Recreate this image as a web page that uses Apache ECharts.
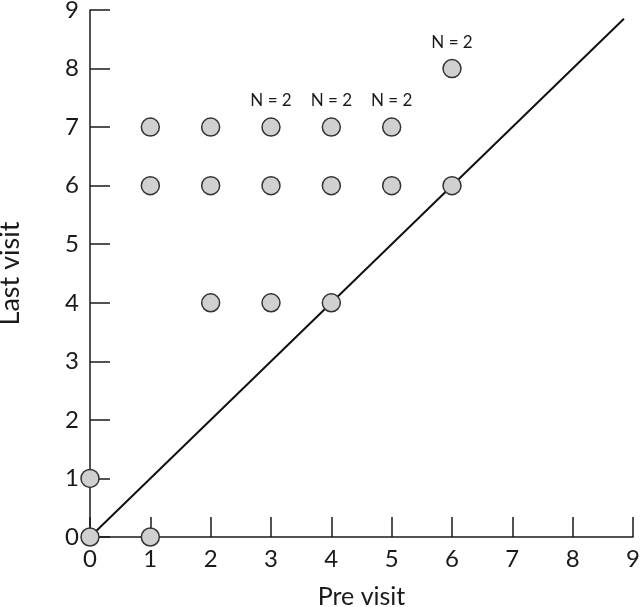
<!DOCTYPE html>
<html>
<head>
<meta charset="utf-8">
<script src="https://cdn.jsdelivr.net/npm/echarts@6/dist/echarts.min.js"></script>
<style>html,body{margin:0;padding:0;background:#fff}#c{width:640px;height:607px}</style>
</head>
<body>
<div id="c"></div>
<script>
const preVisit  = [0, 0, 1, 1, 1, 2, 2, 2, 3, 3, 3, 4, 4, 4, 5, 5, 6, 6];
const lastVisit = [0, 1, 0, 6, 7, 4, 6, 7, 4, 6, 7, 4, 6, 7, 6, 7, 6, 8];
const counts    = [1, 1, 1, 1, 1, 1, 1, 1, 1, 1, 2, 1, 1, 2, 1, 2, 1, 2];
const lineX = [0, 8.85];
const lineY = [0, 8.85];
const ticks = [0, 1, 2, 3, 4, 5, 6, 7, 8, 9];

const FONT = 'Lato';
const pts = preVisit.map((x, i) => ({
  value: [x, lastVisit[i]],
  label: { show: counts[i] > 1, formatter: 'N = ' + counts[i] }
}));

const chart = echarts.init(document.getElementById('c'));
const axisCommon = {
  type: 'value', min: ticks[0], max: ticks[ticks.length - 1], interval: 1,
  axisLine: { show: true, lineStyle: { color: '#1a1a1a', width: 1.5 } },
  axisTick: { show: true, inside: true, length: 20, lineStyle: { color: '#1a1a1a', width: 1.5 } },
  splitLine: { show: false },
  nameLocation: 'middle'
};
chart.setOption({
  animation: false,
  grid: { left: 90, right: 7, top: 10, bottom: 70, containLabel: false, outerBoundsMode: 'none' },
  xAxis: Object.assign({}, axisCommon, {
    name: 'Pre visit', nameGap: 47,
    nameTextStyle: { fontFamily: FONT, fontSize: 25, color: '#1a1a1a' },
    axisLabel: { fontFamily: FONT, fontSize: 24, color: '#1a1a1a', margin: 10 }
  }),
  yAxis: Object.assign({}, axisCommon, {
    name: 'Last visit', nameGap: 66,
    nameTextStyle: { fontFamily: FONT, fontSize: 27, color: '#1a1a1a' },
    axisLabel: { fontFamily: FONT, fontSize: 24, color: '#1a1a1a', margin: 11 }
  }),
  series: [
    {
      type: 'line', data: lineX.map((x, i) => [x, lineY[i]]),
      showSymbol: false, symbol: 'none', z: 1,
      lineStyle: { color: '#111', width: 2 }
    },
    {
      type: 'scatter', data: pts, symbol: 'circle', symbolSize: 18, z: 3,
      itemStyle: { color: '#d0d0d0', borderColor: '#333', borderWidth: 1.5, opacity: 1 },
      label: { position: 'top', distance: 8, fontFamily: FONT, fontSize: 17, color: '#1a1a1a' }
    }
  ]
});
</script>
</body>
</html>
